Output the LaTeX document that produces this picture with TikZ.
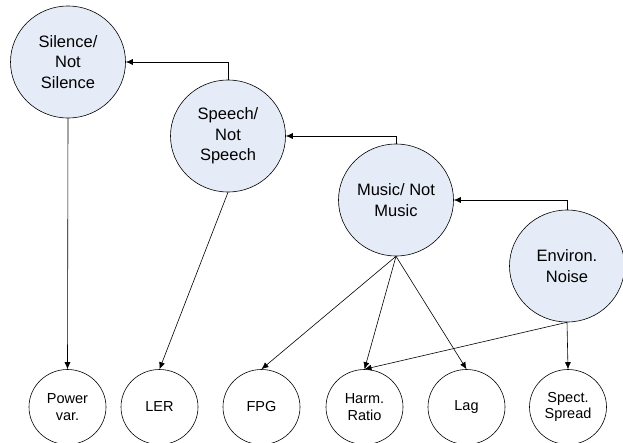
\documentclass[tikz,border=0pt]{standalone}
\usepackage{fontspec}
\setmainfont{Liberation Sans}
\usetikzlibrary{arrows.meta,shapes.geometric}
\definecolor{ClassInk}{HTML}{000000}
\definecolor{ClassFill}{HTML}{E6ECF7}
\tikzset{
  every node/.style={text=ClassInk},
  classifier/.style={ellipse, draw=ClassInk, line width=0.6pt, fill=ClassFill,
    minimum width=115pt, minimum height=112pt, inner sep=0pt, align=center,
    font=\fontsize{16.5}{20.5}\selectfont},
  feature/.style={ellipse, draw=ClassInk, line width=0.6pt, fill=white,
    minimum width=77pt, minimum height=75pt, inner sep=0pt, align=center,
    font=\fontsize{14.5}{16.5}\selectfont},
  link/.style={-{Latex[length=7pt,width=6pt]}, draw=ClassInk, line width=0.6pt},
}

\begin{document}
\begin{tikzpicture}[x=1pt, y=-1pt]
  \useasboundingbox (0,0) rectangle (623,442);
  % Cascade of classifiers
  \node[classifier] (silence) at (68,62) {Silence/\\Not\\Silence};
  \node[classifier] (speech) at (228,136) {Speech/\\Not\\Speech};
  \node[classifier] (music) at (396,200) {Music/ Not\\Music};
  \node[classifier] (environ) at (567,266) {Environ.\\Noise};
  % Features
  \node[feature] (power) at (67.5,407) {Power\\var.};
  \node[feature] (ler) at (159.5,407) {LER};
  \node[feature] (fpg) at (261.5,407) {FPG};
  \node[feature] (harm) at (364.5,407) {Harm.\\Ratio};
  \node[feature] (lag) at (466.5,407) {Lag};
  \node[feature] (spread) at (568,407) {Spect.\\Spread};
  % Elbow links between classifiers
  \draw[link] (speech.north) |- (silence.east);
  \draw[link] (music.north) |- (speech.east);
  \draw[link] (environ.north) |- (music.east);
  % Classifiers to features
  \draw[link] (silence.south) -- (power.north);
  \draw[link] (speech.south) -- (ler.north);
  \draw[link] (music.south) -- (fpg.north);
  \draw[link] (music.south) -- (harm.north);
  \draw[link] (music.south) -- (lag.north);
  \draw[link] (environ.south) -- (harm.north);
  \draw[link] (environ.south) -- (spread.north);
\end{tikzpicture}
\end{document}
